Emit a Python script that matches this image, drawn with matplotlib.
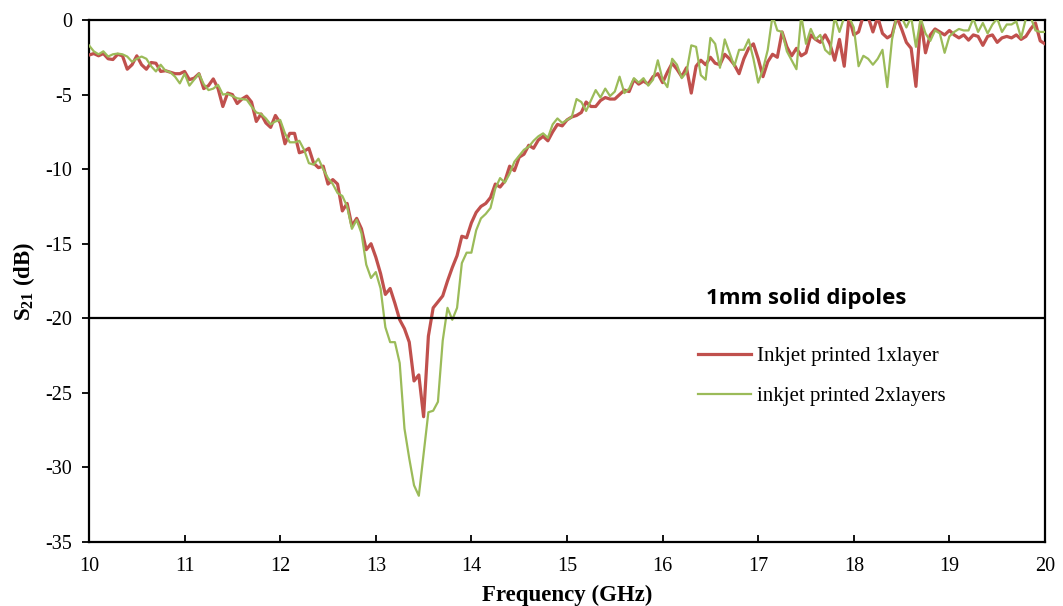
import numpy as np
import matplotlib
matplotlib.use("Agg")
import matplotlib.pyplot as plt

# ---- data -------------------------------------------------------------
freq_ghz = np.round(np.arange(10.0, 20.0001, 0.05), 2)

s21_1x = [
    -2.35, -2.25, -2.4, -2.25, -2.6, -2.65, -2.3, -2.4, -3.3, -3.0,   # 10.00-10.45
    -2.4, -3.0, -3.3, -2.85, -2.9, -3.45, -3.4, -3.5, -3.6, -3.6,     # 10.50-10.95
    -3.45, -4.0, -3.9, -3.6, -4.6, -4.4, -3.95, -4.6, -5.8, -4.9,     # 11.00-11.45
    -5.0, -5.6, -5.3, -5.1, -5.5, -6.8, -6.3, -6.9, -7.2, -6.4,       # 11.50-11.95
    -6.9, -8.3, -7.6, -7.6, -8.9, -8.8, -8.6, -9.6, -9.9, -9.8,       # 12.00-12.45
    -11.0, -10.7, -11.0, -12.8, -12.3, -13.8, -13.3, -14.0, -15.4, -15.0,  # 12.50-12.95
    -15.9, -17.0, -18.4, -18.0, -19.0, -20.1, -20.7, -21.6, -24.2, -23.8,  # 13.00-13.45
    -26.6, -21.2, -19.3, -18.9, -18.5, -17.5, -16.6, -15.8, -14.5, -14.6,  # 13.50-13.95
    -13.6, -12.9, -12.5, -12.3, -11.9, -11.0, -11.2, -10.8, -9.8, -10.1,   # 14.00-14.45
    -9.2, -9.0, -8.4, -8.6, -8.05, -7.8, -8.1, -7.5, -7.0, -7.1,      # 14.50-14.95
    -6.7, -6.5, -6.4, -6.2, -5.5, -5.8, -5.8, -5.4, -5.2, -5.3,       # 15.00-15.45
    -5.3, -5.0, -4.7, -4.8, -4.0, -4.3, -4.1, -4.3, -3.8, -3.6,       # 15.50-15.95
    -4.2, -3.5, -2.9, -3.3, -3.8, -3.2, -4.9, -3.1, -2.7, -3.0,       # 16.00-16.45
    -2.5, -2.9, -3.0, -2.3, -2.6, -3.0, -3.6, -2.6, -1.9, -1.6,       # 16.50-16.95
    -2.6, -3.8, -2.8, -2.3, -2.5, -0.8, -1.8, -2.4, -1.9, -2.4,       # 17.00-17.45
    -2.2, -1.0, -1.3, -1.5, -1.0, -1.6, -2.7, -1.3, -3.1, 0.2,        # 17.50-17.95
    -1.0, -0.8, 0.3, 0.2, -0.8, 0.2, -0.9, -1.2, -1.0, 0.2,           # 18.00-18.45
    -0.6, -1.5, -1.9, -4.45, 0.0, -2.2, -1.0, -0.6, -0.8, -1.0,       # 18.50-18.95
    -0.7, -1.0, -1.2, -1.0, -1.35, -1.0, -1.1, -1.7, -1.1, -1.0,      # 19.00-19.45
    -1.5, -1.2, -1.1, -1.2, -1.0, -1.3, -1.1, -0.6, -0.2, -1.4,       # 19.50-19.95
    -1.6,                                                             # 20.00
]

s21_2x = [
    -1.7, -2.1, -2.3, -2.1, -2.45, -2.3, -2.25, -2.3, -2.45, -2.8,    # 10.00-10.45
    -2.6, -2.45, -2.6, -3.1, -3.45, -3.0, -3.4, -3.5, -3.8, -4.25,    # 10.50-10.95
    -3.6, -4.4, -4.0, -3.6, -4.3, -4.7, -4.6, -4.35, -5.0, -4.95,     # 11.00-11.45
    -5.1, -5.25, -5.3, -5.35, -5.8, -6.2, -6.3, -6.6, -7.0, -6.8,     # 11.50-11.95
    -6.7, -7.6, -8.2, -8.2, -8.1, -8.7, -9.6, -9.7, -9.3, -10.0,      # 12.00-12.45
    -10.6, -11.0, -11.6, -11.8, -12.5, -14.0, -13.4, -14.3, -16.4, -17.3,  # 12.50-12.95
    -16.9, -18.0, -20.6, -21.6, -21.6, -23.0, -27.4, -29.4, -31.2, -31.9,  # 13.00-13.45
    -29.1, -26.3, -26.2, -25.6, -21.5, -19.3, -20.1, -19.3, -16.3, -15.6,  # 13.50-13.95
    -15.6, -14.1, -13.3, -13.0, -12.6, -11.3, -10.6, -10.9, -10.3, -9.5,   # 14.00-14.45
    -9.1, -8.7, -8.5, -8.1, -7.8, -7.6, -7.9, -7.0, -6.6, -6.9,       # 14.50-14.95
    -6.7, -6.5, -5.3, -5.5, -6.1, -5.4, -4.7, -5.2, -4.6, -5.1,       # 15.00-15.45
    -4.8, -3.8, -4.9, -4.6, -3.9, -4.2, -3.9, -4.4, -4.0, -2.7,       # 15.50-15.95
    -4.0, -4.5, -2.6, -3.0, -3.9, -3.5, -1.7, -1.8, -3.7, -4.0,       # 16.00-16.45
    -1.2, -1.6, -3.2, -1.3, -2.2, -3.1, -2.0, -2.0, -1.3, -2.6,       # 16.50-16.95
    -4.2, -3.3, -2.0, 0.3, -0.7, -0.8, -2.1, -2.7, -3.3, 0.3,         # 17.00-17.45
    -1.6, -0.6, -1.3, -1.0, -2.0, -2.3, 0.2, -0.8, 0.2, 0.2,          # 17.50-17.95
    -0.5, -3.1, -2.4, -2.6, -3.0, -2.6, -2.0, -4.5, -1.3, 0.3,        # 18.00-18.45
    0.2, -0.5, 0.2, -1.8, 0.1, -0.9, -1.4, -0.7, -0.9, -2.2,          # 18.50-18.95
    -1.1, -0.8, -0.6, -0.7, -0.7, 0.1, -0.8, -0.2, -0.9, -0.3,        # 19.00-19.45
    0.1, -0.8, -0.3, -0.3, -0.1, -1.2, 0.1, 0.2, -0.7, -0.8,          # 19.50-19.95
    -0.8,                                                             # 20.00
]

series_labels = ["Inkjet printed 1xlayer", "inkjet printed 2xlayers"]
x_ticks = [10, 11, 12, 13, 14, 15, 16, 17, 18, 19, 20]
y_ticks = [0, -5, -10, -15, -20, -25, -30, -35]
threshold_db = -20
annotation = "1mm solid dipoles"

# ---- style ------------------------------------------------------------
plt.rcParams["font.family"] = ["Liberation Serif", "DejaVu Serif"]
plt.rcParams["mathtext.fontset"] = "custom"
plt.rcParams["mathtext.rm"] = "Liberation Serif"
plt.rcParams["mathtext.bf"] = "Liberation Serif:bold"

fig = plt.figure(figsize=(10.63, 6.06), dpi=100)
ax = fig.add_axes([89 / 1063, 1 - 542 / 606, (1045 - 89) / 1063, (542 - 20) / 606])

ax.plot(freq_ghz, s21_1x, color="#C0504D", lw=2.3, label=series_labels[0], zorder=3)
ax.plot(freq_ghz, s21_2x, color="#9BBB59", lw=1.6, label=series_labels[1], zorder=4)
ax.axhline(threshold_db, color="black", lw=1.6, zorder=5)

ax.set_xlim(10, 20)
ax.set_ylim(-35, 0)
ax.set_xticks(x_ticks)
ax.set_yticks(y_ticks)
ax.set_xticklabels([str(t) for t in x_ticks])
ax.set_yticklabels([str(t) for t in y_ticks])

for sp in ax.spines.values():
    sp.set_linewidth(1.6)
    sp.set_color("black")

ax.tick_params(axis="x", direction="in", length=5, width=1.3, labelsize=14.5, pad=10.5)
ax.tick_params(axis="y", direction="out", length=5, width=1.3, labelsize=14.5, pad=7)

ax.set_xlabel("Frequency (GHz)", fontsize=16.5, fontweight="bold", labelpad=6.5)
ax.set_ylabel(r"$\mathbf{S_{21}}$ (dB)", fontsize=16.5, fontweight="bold", labelpad=6)

ax.text(0.75, 0.467, annotation, transform=ax.transAxes, fontsize=16,
        fontweight="bold", family=["Open Sans", "DejaVu Sans"], ha="center", va="center")

leg = ax.legend(loc="upper left", bbox_to_anchor=(0.628, 0.391), frameon=False,
                fontsize=15, handlelength=2.55, handletextpad=0.3, labelspacing=1.0,
                borderaxespad=0)

fig.savefig("out.png", dpi=100)
